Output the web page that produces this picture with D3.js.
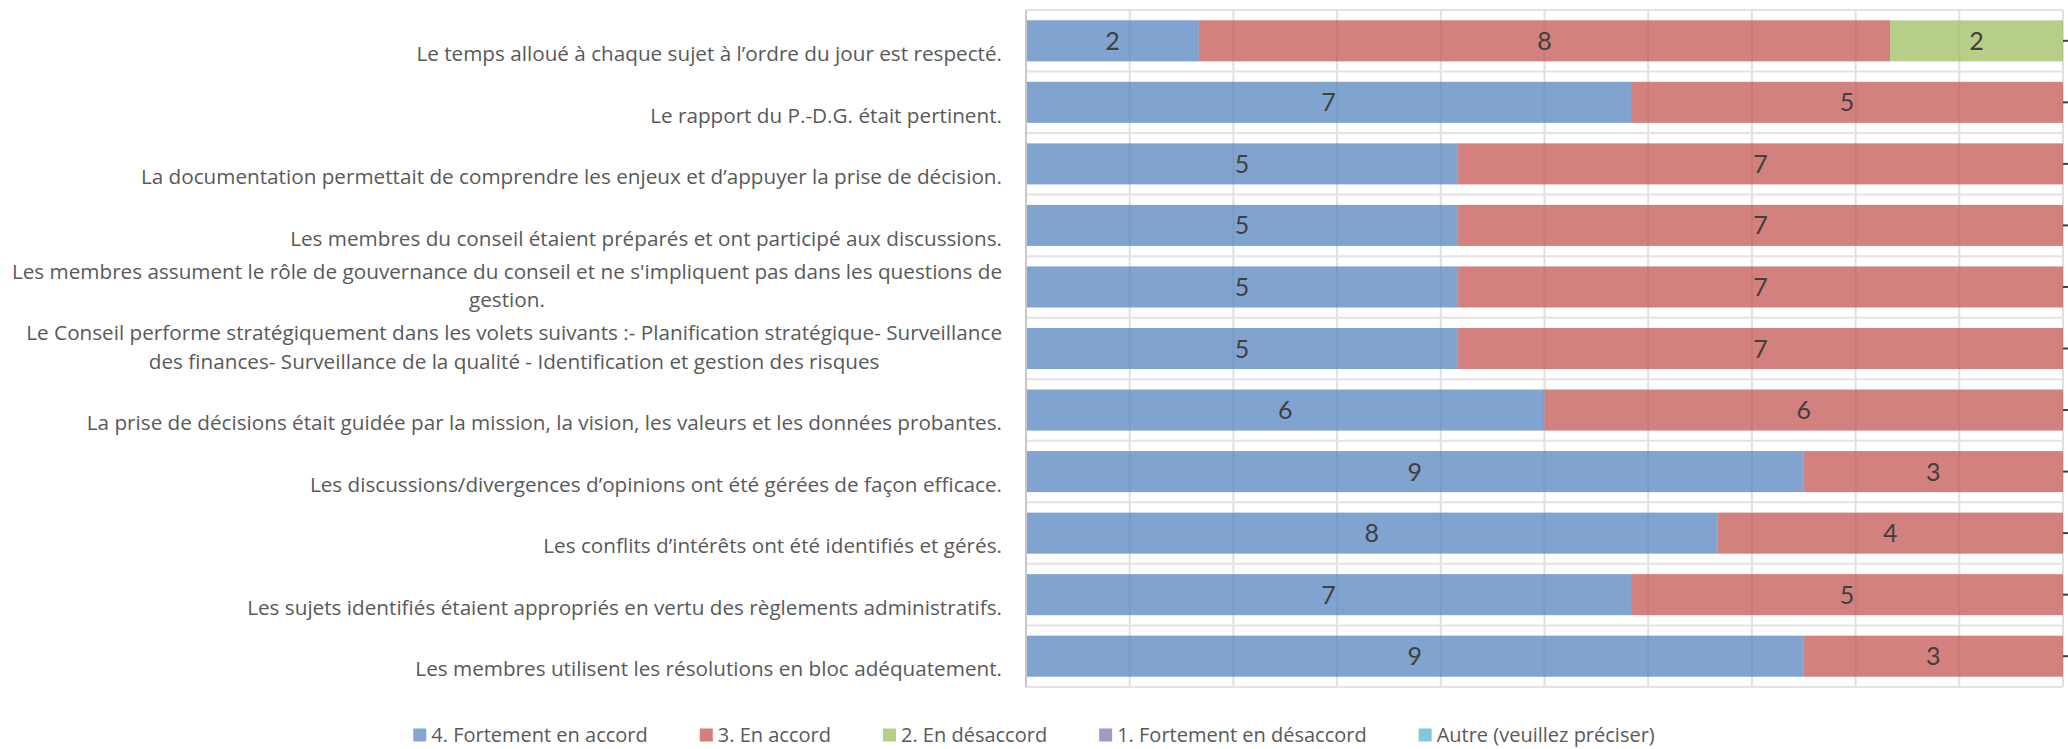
<!DOCTYPE html>
<html>
<head>
<meta charset="utf-8">
<script src="https://cdn.jsdelivr.net/npm/d3@7"></script>
<style>
  body { margin: 0; background: #fff; }
  svg { display: block; font-family: "Open Sans", Lato, sans-serif; }
</style>
</head>
<body>
<script>
var width = 2068;
var height = 749;

// categories, top to bottom ("\n" marks a line break in the label)
var questions = [
  'Le temps alloué à chaque sujet à l’ordre du jour est respecté.',
  'Le rapport du P.-D.G. était pertinent.',
  'La documentation permettait de comprendre les enjeux et d’appuyer la prise de décision.',
  'Les membres du conseil étaient préparés et ont participé aux discussions.',
  "Les membres assument le rôle de gouvernance du conseil et ne s'impliquent pas dans les questions de\ngestion.",
  'Le Conseil performe stratégiquement dans les volets suivants :- Planification stratégique- Surveillance\ndes finances- Surveillance de la qualité - Identification et gestion des risques',
  'La prise de décisions était guidée par la mission, la vision, les valeurs et les données probantes.',
  'Les discussions/divergences d’opinions ont été gérées de façon efficace.',
  'Les conflits d’intérêts ont été identifiés et gérés.',
  'Les sujets identifiés étaient appropriés en vertu des règlements administratifs.',
  'Les membres utilisent les résolutions en bloc adéquatement.'
];

var seriesNames = ['4. Fortement en accord', '3. En accord', '2. En désaccord', '1. Fortement en désaccord', 'Autre (veuillez préciser)'];

var fortementAccord    = [2, 7, 5, 5, 5, 5, 6, 9, 8, 7, 9];
var enAccord           = [8, 5, 7, 7, 7, 7, 6, 3, 4, 5, 3];
var enDesaccord        = [2, 0, 0, 0, 0, 0, 0, 0, 0, 0, 0];
var fortementDesaccord = [0, 0, 0, 0, 0, 0, 0, 0, 0, 0, 0];
var autre              = [0, 0, 0, 0, 0, 0, 0, 0, 0, 0, 0];

var colors = ['#4f81bd', '#c0504d', '#9bbb59', '#8064a2', '#4bacc6'];
var legendColors = ['#84a7d0', '#d47f7e', '#b6ce86', '#a897c1', '#82c7d9'];

var seriesValues = [fortementAccord, enAccord, enDesaccord, fortementDesaccord, autre];

var rows = questions.map(function (q, i) {
  var r = { q: q };
  seriesNames.forEach(function (s, j) { r[s] = seriesValues[j][i]; });
  return r;
});

var margin = { top: 10, right: 5, bottom: 62, left: 1026 };

var svg = d3.select('body').append('svg')
    .attr('width', width)
    .attr('height', height);

var x = d3.scaleLinear()
    .domain([0, 1])
    .range([margin.left, width - margin.right]);

var y = d3.scaleBand()
    .domain(questions)
    .range([margin.top, height - margin.bottom])
    .paddingInner(0.333)
    .paddingOuter(0.167);

var stack = d3.stack()
    .keys(seriesNames)
    .offset(d3.stackOffsetExpand);
var stacked = stack(rows);

// grid
var grid = svg.append('g').attr('class', 'grid');
grid.selectAll('line.v')
    .data(x.ticks(10))
    .enter().append('line')
    .attr('x1', function (d) { return x(d); })
    .attr('x2', function (d) { return x(d); })
    .attr('y1', margin.top)
    .attr('y2', height - margin.bottom)
    .attr('stroke', '#e0e0e0')
    .attr('stroke-width', 2);

grid.selectAll('line.h')
    .data(d3.range(questions.length + 1))
    .enter().append('line')
    .attr('x1', margin.left)
    .attr('x2', width - margin.right)
    .attr('y1', function (i) { return margin.top + i * y.step(); })
    .attr('y2', function (i) { return margin.top + i * y.step(); })
    .attr('stroke', '#e3e3e3')
    .attr('stroke-width', 2);

// bars
var layers = svg.append('g')
    .selectAll('g')
    .data(stacked)
    .enter().append('g')
    .attr('fill', function (d, i) { return colors[i]; })
    .attr('fill-opacity', 0.72);

layers.selectAll('rect')
    .data(function (d) { return d; })
    .enter().append('rect')
    .attr('x', function (d) { return x(d[0]); })
    .attr('width', function (d) { return x(d[1]) - x(d[0]); })
    .attr('y', function (d) { return y(d.data.q); })
    .attr('height', y.bandwidth());

// data labels
var labels = svg.append('g')
    .attr('font-family', 'Lato, sans-serif')
    .attr('font-size', 25)
    .attr('fill', '#404040')
    .attr('text-anchor', 'middle');

stacked.forEach(function (layer) {
  labels.selectAll(null)
      .data(layer.filter(function (d) { return d.data[layer.key] > 0; }))
      .enter().append('text')
      .attr('x', function (d) { return (x(d[0]) + x(d[1])) / 2; })
      .attr('y', function (d) { return y(d.data.q) + y.bandwidth() / 2; })
      .attr('dy', '0.36em')
      .text(function (d) { return d.data[layer.key]; });
});

// axis lines
svg.append('line')
    .attr('x1', margin.left).attr('x2', margin.left)
    .attr('y1', margin.top).attr('y2', height - margin.bottom)
    .attr('stroke', '#c8c8c8').attr('stroke-width', 2);

svg.append('g')
    .selectAll('line')
    .data(questions)
    .enter().append('line')
    .attr('x1', width - margin.right)
    .attr('x2', width)
    .attr('y1', function (d) { return y(d) + y.bandwidth() / 2; })
    .attr('y2', function (d) { return y(d) + y.bandwidth() / 2; })
    .attr('stroke', '#404040')
    .attr('stroke-width', 2);

// category labels
var labelRight = 1002;
var lineH = 28.5;
var cats = svg.append('g')
    .attr('font-size', 20.7)
    .attr('fill', '#595959')
    .attr('text-anchor', 'middle');

questions.forEach(function (q) {
  var lines = q.split('\n');
  var cy = y(q) + y.bandwidth() / 2;
  var t = cats.append('text');
  lines.forEach(function (l, i) {
    t.append('tspan')
        .attr('y', cy + 13 - (lines.length - 1 - i) * lineH)
        .attr('dy', '0.35em')
        .text(l);
  });
  var w = d3.max(t.selectAll('tspan').nodes(), function (n) { return n.getComputedTextLength(); });
  t.selectAll('tspan').attr('x', labelRight - w / 2);
});

// legend
var legend = svg.append('g')
    .attr('font-size', 20)
    .attr('fill', '#595959');

var lx = 0;
seriesNames.forEach(function (name, i) {
  var g = legend.append('g');
  g.append('rect')
      .attr('width', 13).attr('height', 13)
      .attr('y', -6.5)
      .attr('fill', legendColors[i]);
  var t = g.append('text')
      .attr('x', 18)
      .attr('dy', '0.35em')
      .text(name);
  var w = 18 + t.node().getComputedTextLength();
  g.attr('transform', 'translate(' + lx + ',0)');
  lx += w + 52;
});
var legendW = lx - 52;
legend.attr('transform', 'translate(' + (width / 2 - legendW / 2) + ',735)');
</script>
</body>
</html>
